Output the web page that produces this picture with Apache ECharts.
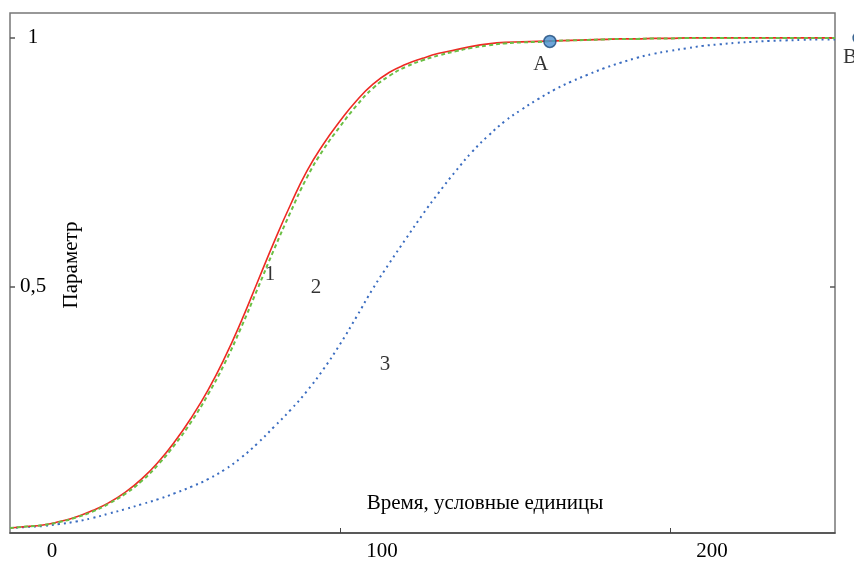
<!DOCTYPE html>
<html>
<head>
<meta charset="utf-8">
<script src="https://cdn.jsdelivr.net/npm/echarts@6/dist/echarts.min.js"></script>
<style>html,body{margin:0;padding:0;background:#fff}#c{width:854px;height:562px}</style>
</head>
<body>
<div id="c"></div>
<script>
// ---- data ----
var time = [0,5,10,15,20,25,30,35,40,45,50,55,60,65,70,75,80,85,90,95,100,105,110,115,120,125,130,135,140,145,150,155,160,165,170,175,180,185,190,195,200,205,210,215,220,225,230,235,240,245,250];
var curve1 = [0.016,0.019,0.022,0.029,0.038,0.051,0.067,0.088,0.115,0.149,0.190,0.238,0.293,0.357,0.430,0.510,0.590,0.665,0.733,0.787,0.833,0.874,0.907,0.931,0.947,0.959,0.969,0.976,0.983,0.988,0.991,0.992,0.993,0.994,0.995,0.996,0.997,0.998,0.998,0.999,0.999,1.0,1.0,1.0,1.0,1.0,1.0,1.0,1.0,1.0,1.0];
var curve2 = [0.016,0.019,0.022,0.028,0.037,0.049,0.065,0.085,0.111,0.144,0.184,0.230,0.284,0.346,0.418,0.496,0.575,0.650,0.720,0.776,0.822,0.864,0.899,0.924,0.942,0.955,0.965,0.973,0.980,0.985,0.989,0.991,0.992,0.994,0.995,0.996,0.997,0.998,0.998,0.999,0.999,1.0,1.0,1.0,1.0,1.0,1.0,1.0,1.0,1.0,1.0];
var curve3 = [0.016,0.018,0.020,0.024,0.029,0.036,0.045,0.054,0.064,0.074,0.086,0.099,0.114,0.133,0.157,0.186,0.219,0.253,0.291,0.335,0.385,0.440,0.497,0.548,0.597,0.645,0.690,0.732,0.771,0.804,0.833,0.856,0.877,0.896,0.912,0.926,0.939,0.950,0.960,0.968,0.974,0.979,0.984,0.987,0.990,0.992,0.994,0.995,0.996,0.997,0.997];
var curveNames = ['1','2','3'];
var curveLabelT = [78.8, 92.7, 113.6];
var curveLabelV = [0.526, 0.498, 0.345];
var pointNames = ['A','B'];
var pointT = [163.6, 257.3];
var pointV = [0.993, 1.0];
var xTickLabels = [0,100,200];
var yTickLabels = [0.5,1];
var xTitle = 'Время, условные единицы';
var yTitle = 'Параметр';

function pairs(xs, ys){ return xs.map(function(x,i){ return [x, ys[i]]; }); }

var FONT = 'Liberation Serif';
var FS = 21;
var TXT = '#000';
var chart = echarts.init(document.getElementById('c'), null, {renderer:'canvas'});
chart.setOption({
  animation:false,
  backgroundColor:'#fff',
  grid:{left:10, right:19, top:13, bottom:29, containLabel:false, outerBoundsMode:'none',
        show:true, borderColor:'#777', borderWidth:1.5, backgroundColor:'transparent'},
  xAxis:{
    type:'value', min:0, max:250,
    axisLine:{show:true, lineStyle:{color:'#444', width:1.5}},
    splitLine:{show:false},
    axisTick:{show:true, inside:true, length:5, lineStyle:{color:'#444', width:1}, customValues:[100,200]},
    axisLabel:{show:true, customValues:xTickLabels, margin:8, fontFamily:FONT, fontSize:FS, color:TXT, padding:[0,0,0,84]},
    name:xTitle, nameLocation:'middle', nameGap:-40, nameMoveOverlap:false,
    nameTextStyle:{fontFamily:FONT, fontSize:FS, color:TXT, padding:[0,0,0,125]}
  },
  yAxis:[{
    type:'value', min:0.006, max:1.05,
    axisLine:{show:false},
    splitLine:{show:false},
    axisTick:{show:true, inside:true, length:5, lineStyle:{color:'#555', width:1.5}, customValues:yTickLabels},
    axisLabel:{show:true, inside:true, align:'center', margin:23, customValues:yTickLabels, fontFamily:FONT, fontSize:FS, color:TXT, padding:[4,0,0,0],
      formatter:function(v){ return String(v).replace('.', ','); }},
    name:yTitle, nameLocation:'middle', nameGap:-72, nameRotate:90, nameMoveOverlap:false,
    nameTextStyle:{fontFamily:FONT, fontSize:FS, color:TXT, padding:[0,0,0,16]}
  },{
    type:'value', min:0.006, max:1.05, position:'right',
    axisLine:{show:false}, splitLine:{show:false},
    axisTick:{show:true, inside:true, length:5, lineStyle:{color:'#555', width:1.5}, customValues:yTickLabels},
    axisLabel:{show:false}
  }],
  series:[
    {type:'line', data:pairs(time, curve1), smooth:true, showSymbol:false, symbol:'none',
     lineStyle:{color:'#ee2a24', width:1.6, type:'solid'}, z:3},
    {type:'line', data:pairs(time, curve2), smooth:true, showSymbol:false, symbol:'none',
     lineStyle:{color:'#6abf45', width:2, type:[4,3]}, z:4},
    {type:'line', data:pairs(time, curve3), smooth:true, showSymbol:false, symbol:'none',
     lineStyle:{color:'#3a6cc0', width:2, type:[2,4]}, z:2},
    {type:'scatter', symbolSize:1, itemStyle:{color:'rgba(0,0,0,0)'}, silent:true,
     data:curveNames.map(function(n,i){ return {name:n, value:[curveLabelT[i], curveLabelV[i]]}; }),
     label:{show:true, position:'inside', formatter:'{b}', fontFamily:FONT, fontSize:FS, color:TXT}, z:5},
    {type:'scatter', clip:false, symbol:'circle', symbolSize:12,
     itemStyle:{color:'#4a8fd0', borderColor:'#1d4a7a', borderWidth:1.5},
     data:pointNames.map(function(n,i){ return {name:n, value:[pointT[i], pointV[i]],
        label:{offset: i===0 ? [-9,0] : [-9,-4]}}; }),
     label:{show:true, position:'bottom', distance:6, formatter:'{b}', fontFamily:FONT, fontSize:FS, color:TXT}, z:6}
  ]
});
</script>
</body>
</html>
